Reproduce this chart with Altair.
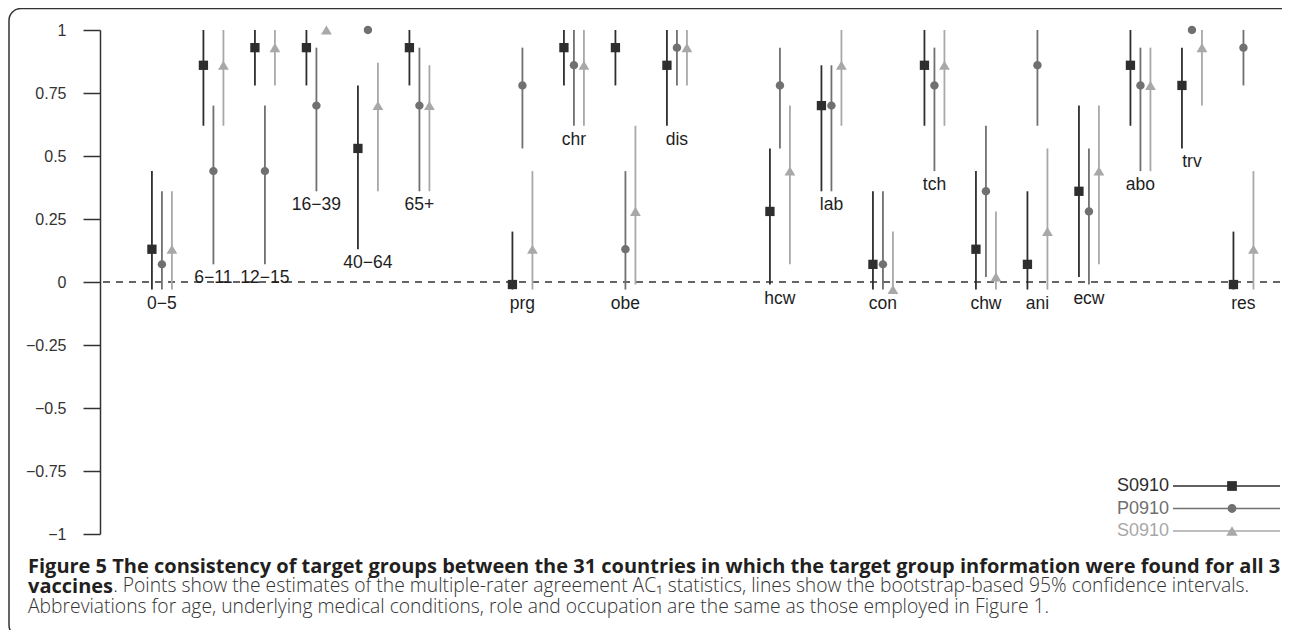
import altair as alt
import pandas as pd

GROUPS = ["0\u22125", "6\u221211", "12\u221215", "16\u221239", "40\u221264", "65+",
          "prg", "chr", "obe", "dis",
          "hcw", "lab", "con", "tch", "chw", "ani", "ecw", "abo", "trv", "res"]
X_DOMAIN = GROUPS[:6] + [" "] + GROUPS[6:10] + ["  "] + GROUPS[10:]

KEYS = ["s1", "s2", "s3"]
XO_DOMAIN = ["_a"] + KEYS + ["_b"]
SERIES_LABELS = ["S0910", "P0910", "S0910"]
COLORS = ["#2e2e2e", "#707070", "#a8a8a8"]
# square, circle, triangle-up (unit paths, scaled by the mark size)
SHAPES = [
    "M-0.93,-0.93H0.93V0.93H-0.93Z",
    "M-0.84,0A0.84,0.84 0 1,0 0.84,0A0.84,0.84 0 1,0 -0.84,0Z",
    "M0,-0.92L1.08,0.9L-1.08,0.9Z",
]

S1_EST = [0.13, 0.86, 0.93, 0.93, 0.53, 0.93, -0.01, 0.93, 0.93, 0.86, 0.28, 0.70, 0.07, 0.86, 0.13, 0.07, 0.36, 0.86, 0.78, -0.01]
S1_LO = [-0.03, 0.62, 0.78, 0.78, 0.13, 0.78, -0.03, 0.78, 0.78, 0.62, -0.01, 0.36, -0.03, 0.62, -0.03, -0.03, 0.02, 0.62, 0.53, -0.03]
S1_HI = [0.44, 1.0, 1.0, 1.0, 0.78, 1.0, 0.20, 1.0, 1.0, 1.0, 0.53, 0.86, 0.36, 1.0, 0.44, 0.36, 0.70, 1.0, 0.93, 0.20]

P_EST = [0.07, 0.44, 0.44, 0.70, 1.0, 0.70, 0.78, 0.86, 0.13, 0.93, 0.78, 0.70, 0.07, 0.78, 0.36, 0.86, 0.28, 0.78, 1.0, 0.93]
P_LO = [-0.03, 0.07, 0.07, 0.36, 1.0, 0.36, 0.53, 0.62, -0.03, 0.78, 0.53, 0.36, -0.03, 0.44, 0.02, 0.62, -0.01, 0.44, 1.0, 0.78]
P_HI = [0.36, 0.70, 0.70, 0.93, 1.0, 0.93, 0.93, 1.0, 0.44, 1.0, 0.93, 0.86, 0.36, 0.93, 0.62, 1.0, 0.53, 0.93, 1.0, 1.0]

S2_EST = [0.13, 0.86, 0.93, 1.0, 0.70, 0.70, 0.13, 0.86, 0.28, 0.93, 0.44, 0.86, -0.03, 0.86, 0.02, 0.20, 0.44, 0.78, 0.93, 0.13]
S2_LO = [-0.03, 0.62, 0.78, 1.0, 0.36, 0.36, -0.03, 0.62, -0.01, 0.78, 0.07, 0.62, -0.03, 0.62, -0.03, -0.03, 0.07, 0.44, 0.70, -0.03]
S2_HI = [0.36, 1.0, 1.0, 1.0, 0.87, 0.86, 0.44, 1.0, 0.62, 1.0, 0.70, 1.0, 0.20, 1.0, 0.28, 0.53, 0.70, 0.93, 1.0, 0.44]

Y_TICKS = [1, 0.75, 0.5, 0.25, 0, -0.25, -0.5, -0.75, -1]

CAPTION_1 = ("Figure 5 The consistency of target groups between the 31 countries "
             "in which the target group information were found for all 3")
CAPTION_2B = "vaccines"
CAPTION_2N = (". Points show the estimates of the multiple-rater agreement AC\u2081 statistics, "
              "lines show the bootstrap-based 95% confidence intervals.")
CAPTION_3 = ("Abbreviations for age, underlying medical conditions, role and occupation "
             "are the same as those employed in Figure 1.")

rows = []
for key, est, lo, hi in zip(KEYS, [S1_EST, P_EST, S2_EST], [S1_LO, P_LO, S2_LO], [S1_HI, P_HI, S2_HI]):
    for g, e, l, h in zip(GROUPS, est, lo, hi):
        rows.append({"group": g, "key": key, "est": e, "lo": l, "hi": h})
df = pd.DataFrame(rows)

label_expr = " : ".join(
    [f"datum.value === '{k}' ? '{lab}'" for k, lab in zip(KEYS[:-1], SERIES_LABELS[:-1])]
) + f" : '{SERIES_LABELS[-1]}'"
color_expr = " : ".join(
    [f"datum.value === '{k}' ? '{c}'" for k, c in zip(KEYS[:-1], COLORS[:-1])]
) + f" : '{COLORS[-1]}'"

FONT = "Liberation Sans"

legend_common = dict(
    orient="none", direction="vertical", legendX=1050, legendY=447, title=None,
    padding=0, rowPadding=4.5, labelFontSize=18, labelFont=FONT, labelExpr=label_expr,
    labelAlign="right", labelOffset=alt.ExprRef("-72"), symbolOffset=73, labelBaseline="middle",
)
legend_lines = alt.Legend(symbolType="M-59,0H48", symbolSize=4, symbolStrokeWidth=1.6,
                          labelOpacity=0, **legend_common)
legend_marks = alt.Legend(symbolSize=110, symbolStrokeWidth=0, labelOpacity=1,
                          labelColor=alt.ExprRef(color_expr), **legend_common)

x_enc = alt.X("group:N", scale=alt.Scale(type="band", domain=X_DOMAIN, paddingInner=0,
                                         paddingOuter=0.456, align=0.77), axis=None)
xo_enc = alt.XOffset("key:N", scale=alt.Scale(type="band", domain=XO_DOMAIN, paddingInner=0,
                                              paddingOuter=0.075))
y_scale = alt.Scale(domain=[-1, 1], nice=False, zero=False)
y_axis = alt.Axis(values=Y_TICKS, format=".2~f", title=None, grid=False,
                  labelFont=FONT, labelFontSize=16, labelColor="#333333", labelPadding=17,
                  tickSize=17, tickWidth=1.5, tickColor="#333333",
                  domainColor="#333333", domainWidth=1.5)

base = alt.Chart(df)

frame = alt.Chart(alt.Data(values=[{"f": 1}])).mark_rect(
    filled=False, stroke="#333333", strokeWidth=1.5, cornerRadius=12, clip=False
).encode(x=alt.value(-91), x2=alt.value(1195), y=alt.value(-21.5), y2=alt.value(607))

zero_line = alt.Chart(alt.Data(values=[{"v": 0}])).mark_rule(
    strokeDash=[7, 6], color="#333333", strokeWidth=1.5
).encode(y=alt.Y("v:Q", scale=y_scale, axis=y_axis))

rules = base.mark_rule(strokeWidth=1.8).encode(
    x=x_enc, xOffset=xo_enc,
    y=alt.Y("lo:Q", scale=y_scale, axis=y_axis), y2="hi:Q",
    stroke=alt.Stroke("key:N", scale=alt.Scale(domain=KEYS, range=COLORS), legend=legend_lines),
)

points = base.transform_calculate(series="datum.key").mark_point(
    filled=True, opacity=1, strokeWidth=0, size=100
).encode(
    x=x_enc, xOffset=xo_enc,
    y=alt.Y("est:Q", scale=y_scale, axis=y_axis),
    fill=alt.Fill("series:N", scale=alt.Scale(range=COLORS), legend=legend_marks),
    shape=alt.Shape("series:N", scale=alt.Scale(range=SHAPES), legend=legend_marks),
)

labels = base.transform_aggregate(
    lo_min="min(lo)", groupby=["group"]
).mark_text(baseline="top", dy=5, fontSize=17.5, font=FONT, color="#1e1e1e").encode(
    x=x_enc, y=alt.Y("lo_min:Q", scale=y_scale, axis=y_axis), text="group:N"
)

NB = "\u00a0"
title = alt.TitleParams(
    text=[CAPTION_1, CAPTION_2B],
    subtitle=["\u200b" + NB * 17 + CAPTION_2N, CAPTION_3],
    orient="bottom", anchor="start", frame="group", dx=-72, offset=-81,
    font="Open Sans", fontSize=20, fontWeight="bold", color="#231f20", lineHeight=20.5,
    subtitleFont="Open Sans", subtitleFontSize=19.3, subtitleFontWeight=300,
    subtitleColor="#333333", subtitleLineHeight=20.5, subtitlePadding=-20,
)

chart = alt.layer(frame, zero_line, rules, points, labels).properties(
    width=1180, height=504, title=title,
    autosize=alt.AutoSizeParams(type="none"),
    padding={"left": 92, "top": 22, "right": 2, "bottom": 96},
).configure_view(stroke=None)

chart.save("out.html", embed_options={"renderer": "svg", "actions": False})
